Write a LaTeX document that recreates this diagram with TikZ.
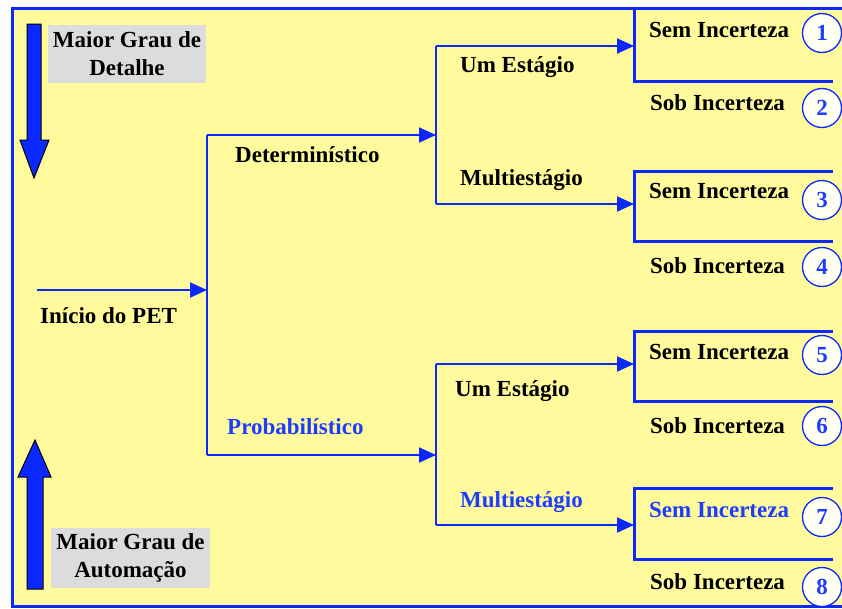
\documentclass[tikz,border=0pt]{standalone}
\usepackage{fontspec}
\setmainfont{Liberation Serif}
\usetikzlibrary{arrows.meta}
\definecolor{paper}{HTML}{FFFB9C}
\definecolor{linkblue}{HTML}{0A28FF}
\definecolor{textblue}{HTML}{1E3CFF}
\definecolor{tagfill}{HTML}{DCDCDC}
\definecolor{disc}{HTML}{FFFFF2}

\begin{document}
\begin{tikzpicture}[x=1pt,y=-1pt,
  lbl/.style={font=\bfseries\fontsize{23}{28}\selectfont, inner sep=0pt,
    text height=16pt, text depth=0pt, anchor=west},
  bluetext/.style={text=textblue},
  link/.style={linkblue, line width=2pt},
  linkarrow/.style={link, -{Triangle[length=17pt,width=15pt]}},
  bracket/.style={linkblue, line width=3pt},
  num/.style={circle, draw=linkblue, line width=1.3pt, fill=disc,
    minimum size=39pt, inner sep=0pt, text=textblue,
    font=\bfseries\fontsize{23}{28}\selectfont},
  tagbox/.style={fill=tagfill, align=center, inner sep=0pt,
    font=\bfseries\fontsize{23}{28}\selectfont},
  bigarrow/.style={fill=linkblue, draw=black, line width=1pt, line join=miter}
]
\useasboundingbox (0,0) rectangle (842,608);

% frame
\fill[white] (0,0) rectangle (842,608);
\fill[paper] (12,8) rectangle (845,606);
\draw[linkblue, line width=3pt] (845,8) -- (12,8) -- (12,606) -- (845,606);

% direction arrows and their captions
\draw[bigarrow] (27,24) -- (41,24) -- (41,140) -- (49,140) -- (34,178)
  -- (20,140) -- (27,140) -- cycle;
\draw[bigarrow] (27,589) -- (43,589) -- (43,477) -- (51,477) -- (35,440)
  -- (18,477) -- (27,477) -- cycle;
\node[tagbox, minimum width=158pt, minimum height=58pt] (detail) at (127,54)
  {Maior Grau de\\Detalhe};
\node[tagbox, minimum width=159pt, minimum height=60pt] (autom) at (130.5,558)
  {Maior Grau de\\Automação};

% junction points
\coordinate (start) at (37,290);
\coordinate (j1) at (207,290);
\coordinate (j1t) at (207,135);
\coordinate (j1b) at (207,455);
\coordinate (j2t) at (436,135);
\coordinate (j2b) at (436,455);
\coordinate (k1t) at (436,46);
\coordinate (k1b) at (436,204);
\coordinate (k2t) at (436,364);
\coordinate (k2b) at (436,525);
\coordinate (b1) at (634,46);
\coordinate (b3) at (634,204);
\coordinate (b5) at (634,364);
\coordinate (b7) at (634,525);

% tree
\draw[linkarrow] (start) -- (j1);
\draw[link] (j1t) -- (j1b);
\draw[linkarrow] (j1t) -- (j2t);
\draw[linkarrow] (j1b) -- (j2b);
\draw[link] (k1t) -- (k1b);
\draw[link] (k2t) -- (k2b);
\draw[linkarrow] (k1t) -- (b1);
\draw[linkarrow] (k1b) -- (b3);
\draw[linkarrow] (k2t) -- (b5);
\draw[linkarrow] (k2b) -- (b7);

% open boxes at the leaves
\draw[bracket] (833,8) -- (634,8) -- (634,81) -- (833,81);
\draw[bracket] (833,171) -- (634,171) -- (634,241) -- (833,241);
\draw[bracket] (833,331) -- (634,331) -- (634,401) -- (833,401);
\draw[bracket] (833,488) -- (634,488) -- (634,559) -- (833,559);

% labels
\node[lbl] (pet) at (40,315) {Início do PET};
\node[lbl] (det) at (235,154) {Determinístico};
\node[lbl, bluetext] (prob) at (227,426) {Probabilístico};
\node[lbl] (um1) at (460,64) {Um Estágio};
\node[lbl] (multi1) at (460,177) {Multiestágio};
\node[lbl] (um2) at (455,388) {Um Estágio};
\node[lbl, bluetext] (multi2) at (460,499) {Multiestágio};

\node[lbl] (sem1) at (649,29) {Sem Incerteza};
\node[lbl] (sob2) at (650,102) {Sob Incerteza};
\node[lbl] (sem3) at (649,190) {Sem Incerteza};
\node[lbl] (sob4) at (650,265) {Sob Incerteza};
\node[lbl] (sem5) at (649,351) {Sem Incerteza};
\node[lbl] (sob6) at (650,425) {Sob Incerteza};
\node[lbl, bluetext] (sem7) at (649,509) {Sem Incerteza};
\node[lbl] (sob8) at (650,581) {Sob Incerteza};

\node[num] (n1) at (822,33) {1};
\node[num] (n2) at (822,108) {2};
\node[num] (n3) at (822,200) {3};
\node[num] (n4) at (822,267) {4};
\node[num] (n5) at (822,355) {5};
\node[num] (n6) at (822,426) {6};
\node[num] (n7) at (822,517) {7};
\node[num] (n8) at (822,587) {8};
\end{tikzpicture}
\end{document}
